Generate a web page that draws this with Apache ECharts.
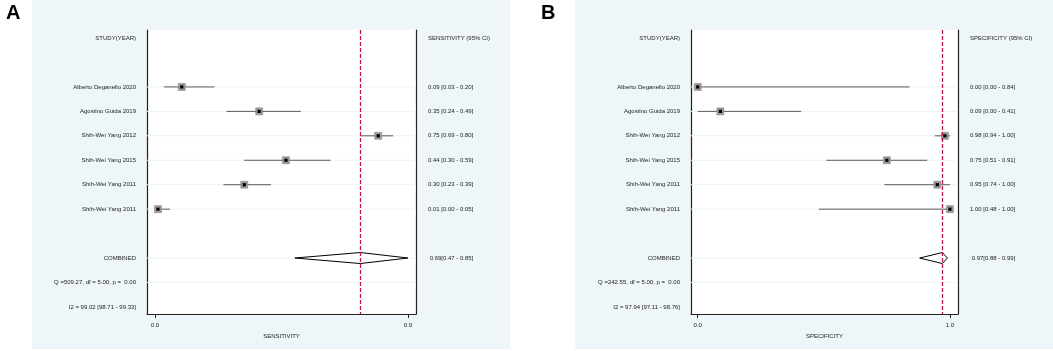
<!DOCTYPE html>
<html>
<head>
<meta charset="utf-8">
<script src="https://cdn.jsdelivr.net/npm/echarts@6/dist/echarts.min.js"></script>
<style>
  html, body { margin: 0; padding: 0; background: #fff; }
  #chart { width: 1053px; height: 351px; }
</style>
</head>
<body>
<div id="chart"></div>
<script>
// studies, top to bottom
const studies = ['Alberto Deganello 2020', 'Agostino Guida 2019', 'Shih-Wei Yang 2012',
  'Shih-Wei Yang 2015', 'Shih-Wei Yang 2011', 'Shih-Wei Yang 2011'];

const sensEst = [0.09, 0.35, 0.75, 0.44, 0.30, 0.01];
const sensLo = [0.03, 0.24, 0.69, 0.30, 0.23, 0.00];
const sensHi = [0.20, 0.49, 0.80, 0.59, 0.39, 0.05];
const sensPooled = [0.69, 0.47, 0.85]; // est, lo, hi
const sensStats = ['Q =509.27, df = 5.00, p =  0.00', 'I2 = 99.02 [98.71 - 99.33]'];

const specEst = [0.00, 0.09, 0.98, 0.75, 0.95, 1.00];
const specLo = [0.00, 0.00, 0.94, 0.51, 0.74, 0.48];
const specHi = [0.84, 0.41, 1.00, 0.91, 1.00, 1.00];
const specPooled = [0.97, 0.88, 0.99];
const specStats = ['Q =242.55, df = 5.00, p =  0.00', 'I2 = 97.94 [97.11 - 98.76]'];

const sensTicks = [0, 0.85];
const sensTickLabels = ['0.0', '0.9'];
const specTicks = [0, 1];
const specTickLabels = ['0.0', '1.0'];

// row slots (0 = header)
const studyRows = [2, 3, 4, 5, 6, 7];
const pooledRow = 9;
const statRows = [10, 11];
const gridRows = [2, 3, 4, 5, 6, 7, 9, 10];

const FONT = '"Liberation Sans", Arial, sans-serif';
const TXT = '#222';
const f2 = v => v.toFixed(2);

function leftLabels(stats) {
  const m = { 0: 'STUDY(YEAR)', 9: 'COMBINED' };
  studies.forEach((s, i) => { m[studyRows[i]] = s; });
  m[statRows[0]] = stats[0];
  m[statRows[1]] = stats[1];
  return m;
}

function rightLabels(title, est, lo, hi, pooled) {
  const m = { 0: title };
  est.forEach((e, i) => { m[studyRows[i]] = f2(e) + ' [' + f2(lo[i]) + ' - ' + f2(hi[i]) + ']'; });
  m[pooledRow] = ' ' + f2(pooled[0]) + '[' + f2(pooled[1]) + ' - ' + f2(pooled[2]) + ']';
  return m;
}

const labelRows = [0, 2, 3, 4, 5, 6, 7, 9, 10, 11];

function yAxes(gi, left, right) {
  const base = {
    gridIndex: gi, type: 'value', inverse: true, min: -0.33, max: 11.29,
    splitLine: { show: false }, axisTick: { show: false },
    axisLine: { show: true, onZero: false, lineStyle: { color: '#222', width: 1.2 } }
  };
  return [
    Object.assign({}, base, {
      position: 'left',
      axisLabel: { customValues: labelRows, margin: 11, fontSize: 6, color: TXT, fontFamily: FONT,
        formatter: v => left[Math.round(v)] || '' }
    }),
    Object.assign({}, base, {
      position: 'right',
      axisLabel: { customValues: labelRows, margin: 12, fontSize: 6, color: TXT, fontFamily: FONT,
        formatter: v => right[Math.round(v)] || '' }
    })
  ];
}

function xAxis(gi, min, max, ticks, tickLabels, name) {
  return {
    gridIndex: gi, type: 'value', min: min, max: max,
    name: name, nameLocation: 'middle', nameGap: 19,
    nameTextStyle: { fontSize: 6, color: TXT, fontFamily: FONT },
    splitLine: { show: false },
    axisLine: { show: true, onZero: false, lineStyle: { color: '#222', width: 1.2 } },
    axisTick: { show: true, customValues: ticks, length: 4, lineStyle: { color: '#222' } },
    axisLabel: { customValues: ticks, margin: 8, fontSize: 6, color: TXT, fontFamily: FONT,
      formatter: v => tickLabels[ticks.indexOf(v)] || '' }
  };
}

function rowLines(gi) {
  return {
    type: 'custom', xAxisIndex: gi, yAxisIndex: gi * 2, silent: true, z: 1,
    data: gridRows.map(r => [0, r]),
    renderItem: (params, api) => {
      const cs = params.coordSys;
      const y = api.coord([0, api.value(1)])[1];
      return { type: 'line', shape: { x1: cs.x, y1: y, x2: cs.x + cs.width, y2: y },
        style: { stroke: '#eef2f5', lineWidth: 1 } };
    }
  };
}

function studySeries(gi, est, lo, hi) {
  return {
    type: 'custom', xAxisIndex: gi, yAxisIndex: gi * 2, z: 3,
    data: est.map((e, i) => [e, studyRows[i], lo[i], hi[i]]),
    encode: { x: 0, y: 1 },
    renderItem: (params, api) => {
      const row = api.value(1);
      const c = api.coord([api.value(0), row]);
      const l = api.coord([api.value(2), row]);
      const h = api.coord([api.value(3), row]);
      return {
        type: 'group',
        children: [
          { type: 'line', shape: { x1: l[0], y1: c[1], x2: h[0], y2: c[1] },
            style: { stroke: '#5a5a5a', lineWidth: 1 } },
          { type: 'rect', shape: { x: c[0] - 3.5, y: c[1] - 3.5, width: 7, height: 7 },
            style: { fill: '#9b9b9b', stroke: '#7a7a7a', lineWidth: 0.5 } },
          { type: 'rect', shape: { x: c[0] - 1.6, y: c[1] - 1.6, width: 3.2, height: 3.2 },
            style: { fill: '#000' } }
        ]
      };
    }
  };
}

function pooledSeries(gi, pooled) {
  return {
    type: 'custom', xAxisIndex: gi, yAxisIndex: gi * 2, z: 3,
    data: [[pooled[0], pooledRow, pooled[1], pooled[2]]],
    encode: { x: 0, y: 1 },
    renderItem: (params, api) => {
      const row = api.value(1);
      const c = api.coord([api.value(0), row]);
      const l = api.coord([api.value(2), row]);
      const h = api.coord([api.value(3), row]);
      return {
        type: 'polygon',
        shape: { points: [[l[0], c[1]], [c[0], c[1] - 5.5], [h[0], c[1]], [c[0], c[1] + 5.5]] },
        style: { fill: '#fff', stroke: '#000', lineWidth: 1 }
      };
    },
    markLine: {
      silent: true, symbol: ['none', 'none'], label: { show: false }, animation: false,
      lineStyle: { color: '#c3173f', type: [4, 2], width: 1.3 },
      data: [{ xAxis: pooled[0] }]
    }
  };
}

const chart = echarts.init(document.getElementById('chart'));

chart.setOption({
  animation: false,
  backgroundColor: '#fff',
  graphic: [
    { type: 'rect', z: -10, shape: { x: 32, y: 0, width: 478, height: 349 }, style: { fill: '#eef6fa' } },
    { type: 'rect', z: -10, shape: { x: 575, y: 0, width: 478, height: 349 }, style: { fill: '#eef6fa' } },
    { type: 'text', left: 6, top: 3, style: { text: 'A', font: 'bold 20px ' + FONT, fill: '#000' } },
    { type: 'text', left: 541, top: 3, style: { text: 'B', font: 'bold 20px ' + FONT, fill: '#000' } }
  ],
  grid: [
    { left: 147, top: 30, width: 269, height: 284, show: true, backgroundColor: '#fff', borderWidth: 0 },
    { left: 691, top: 30, width: 267, height: 284, show: true, backgroundColor: '#fff', borderWidth: 0 }
  ],
  xAxis: [
    xAxis(0, -0.0269, 0.877, sensTicks, sensTickLabels, 'SENSITIVITY'),
    xAxis(1, -0.0266, 1.032, specTicks, specTickLabels, 'SPECIFICITY')
  ],
  yAxis: [
    ...yAxes(0, leftLabels(sensStats), rightLabels('SENSITIVITY (95% CI)', sensEst, sensLo, sensHi, sensPooled)),
    ...yAxes(1, leftLabels(specStats), rightLabels('SPECIFICITY (95% CI)', specEst, specLo, specHi, specPooled))
  ],
  series: [
    rowLines(0),
    studySeries(0, sensEst, sensLo, sensHi),
    pooledSeries(0, sensPooled),
    rowLines(1),
    studySeries(1, specEst, specLo, specHi),
    pooledSeries(1, specPooled)
  ]
});
</script>
</body>
</html>
